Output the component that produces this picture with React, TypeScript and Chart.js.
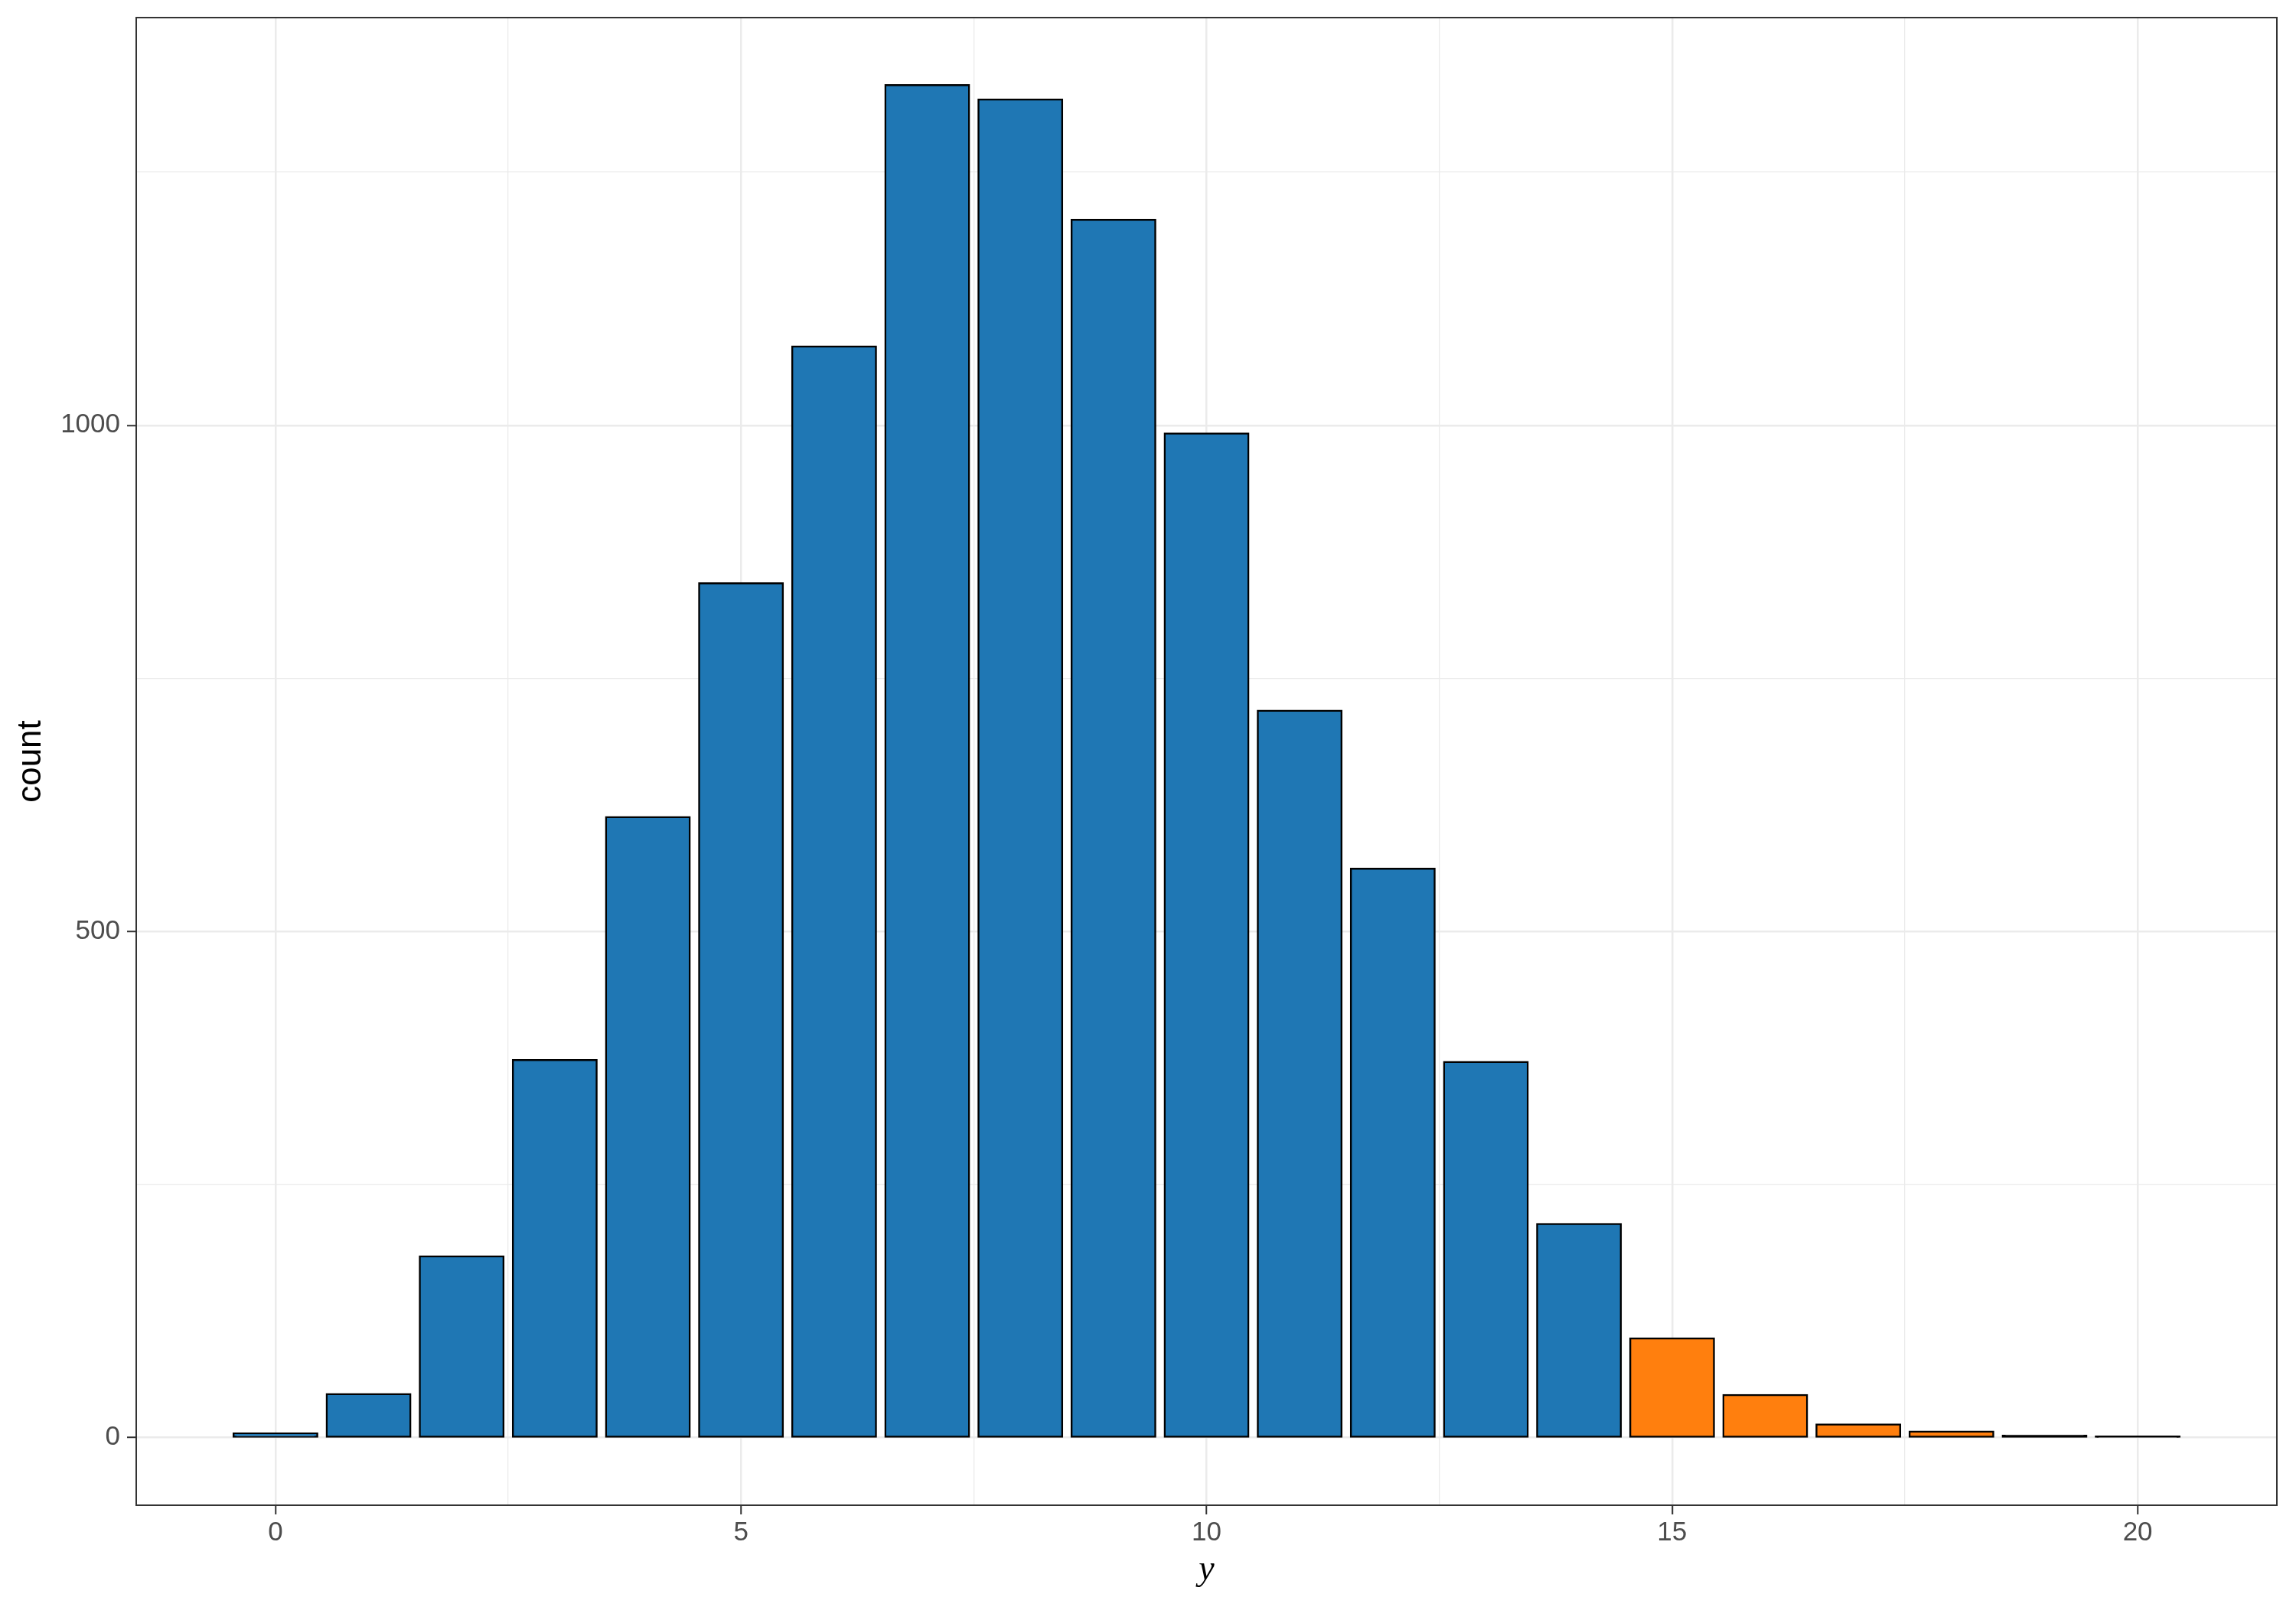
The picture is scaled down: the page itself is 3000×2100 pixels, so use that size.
import React, { useEffect, useRef } from 'react';
import { Chart, registerables } from 'chart.js';

Chart.register(...registerables);

// values of y and how many times each came up
const yValues = [0, 1, 2, 3, 4, 5, 6, 7, 8, 9, 10, 11, 12, 13, 14, 15, 16, 17, 18, 19, 20];
const counts = [4, 43, 179, 373, 613, 844, 1078, 1336, 1322, 1203, 992, 718, 562, 371, 211, 98, 42, 13, 6, 2, 1];
const tailFrom = 15; // bars from here on are orange

const xMajorTicks = [0, 5, 10, 15, 20];
const xMinorTicks = [2.5, 7.5, 12.5, 17.5];
const countMajorTicks = [0, 500, 1000];
const countMinorTicks = [250, 750, 1250];

const BLUE = '#1F77B4';
const ORANGE = '#FF7F0E';
const GRID = '#EBEBEB';
const DARK = '#333333';
const TICK_TEXT = '#4D4D4D';
const BAR_LINE = 2.5;

const panelBorder = {
    id: 'panelBorder',
    afterDraw(chart: any) {
        const { ctx, chartArea } = chart;
        ctx.save();
        ctx.strokeStyle = DARK;
        ctx.lineWidth = 2;
        ctx.strokeRect(chartArea.left, chartArea.top, chartArea.right - chartArea.left, chartArea.bottom - chartArea.top);
        ctx.restore();
    }
};

const setTicks = (values: number[]) => (scale: any) => {
    scale.ticks = [...values].sort((a, b) => a - b).map(v => ({ value: v }));
};

// fixed axis box, no extra padding for the labels
const fixSize = (w: number | null, h: number | null) => (scale: any) => {
    if (w !== null) scale.width = w;
    if (h !== null) scale.height = h;
    scale.paddingTop = 0;
    scale.paddingBottom = 0;
    scale.paddingLeft = 0;
    scale.paddingRight = 0;
};

// a bar thinner than its outline shows only the outline (like a centred stroke would)
const barFill = (c: any) => {
    const v = yValues[c.dataIndex];
    const base = v >= tailFrom ? ORANGE : BLUE;
    const ys = c.chart?.scales?.y;
    if (!ys || c.parsed === undefined) return base;
    const h = ys.getPixelForValue(0) - ys.getPixelForValue(c.parsed.y);
    return h < 2 * BAR_LINE ? '#000000' : base;
};

const App = () => {
    const chartRef = useRef<HTMLCanvasElement | null>(null);

    useEffect(() => {
        document.body.style.margin = '0';
        if (!chartRef.current) return;
        const ctx = chartRef.current.getContext('2d');
        if (!ctx) return;

        const tickFont = { family: 'Liberation Sans', size: 35, lineHeight: 1.2 };

        const myChart = new Chart(ctx, {
            type: 'bar',
            data: {
                datasets: [{
                    data: yValues.map((v, i) => ({ x: v, y: counts[i] })),
                    backgroundColor: barFill,
                    borderColor: '#000000',
                    borderWidth: BAR_LINE,
                    borderSkipped: false,
                    inflateAmount: BAR_LINE / 2,
                    barPercentage: 0.9,
                    categoryPercentage: 1.0
                }]
            },
            options: {
                responsive: false,
                animation: false,
                devicePixelRatio: 1,
                layout: { padding: { left: 0, right: 25, top: 23, bottom: 0 } },
                plugins: { legend: { display: false }, tooltip: { enabled: false } },
                scales: {
                    x: {
                        type: 'linear',
                        min: -1.495,
                        max: 21.495,
                        offset: false,
                        afterBuildTicks: setTicks([...xMajorTicks, ...xMinorTicks]),
                        afterFit: fixSize(null, 133),
                        grid: {
                            offset: false,
                            color: GRID,
                            lineWidth: (c: any) => (xMajorTicks.includes(c.tick?.value) ? 2.5 : 1.3),
                            tickColor: (c: any) => (xMajorTicks.includes(c.tick?.value) ? DARK : 'rgba(0,0,0,0)'),
                            tickLength: 12,
                            tickWidth: 2
                        },
                        border: { display: false },
                        ticks: {
                            autoSkip: false,
                            maxRotation: 0,
                            padding: 3,
                            color: TICK_TEXT,
                            font: tickFont,
                            callback: (v: any) => (xMajorTicks.includes(Number(v)) ? String(v) : '')
                        },
                        title: {
                            display: true,
                            text: 'y',
                            color: '#000000',
                            font: { family: 'Liberation Serif', style: 'italic', size: 46, lineHeight: 1 },
                            padding: { top: 0, bottom: 25 }
                        }
                    },
                    y: {
                        type: 'linear',
                        min: -66.8,
                        max: 1402.8,
                        afterBuildTicks: setTicks([...countMajorTicks, ...countMinorTicks]),
                        afterFit: fixSize(178, null),
                        grid: {
                            color: GRID,
                            lineWidth: (c: any) => (countMajorTicks.includes(c.tick?.value) ? 2.5 : 1.3),
                            tickColor: (c: any) => (countMajorTicks.includes(c.tick?.value) ? DARK : 'rgba(0,0,0,0)'),
                            tickLength: 12,
                            tickWidth: 2
                        },
                        border: { display: false },
                        ticks: {
                            autoSkip: false,
                            padding: 9,
                            color: TICK_TEXT,
                            font: tickFont,
                            callback: (v: any) => (countMajorTicks.includes(Number(v)) ? String(v) : '')
                        },
                        title: {
                            display: true,
                            text: 'count',
                            color: '#000000',
                            font: { family: 'Liberation Sans', size: 44, lineHeight: 1 },
                            padding: { top: 19, bottom: 0 }
                        }
                    }
                }
            },
            plugins: [panelBorder]
        });

        return () => {
            myChart.destroy();
        };
    }, []);

    return (
        <div style={{ width: 3000, height: 2100, background: '#ffffff' }}>
            <canvas ref={chartRef} width={3000} height={2100} style={{ width: 3000, height: 2100 }}></canvas>
        </div>
    );
};

export default App;
